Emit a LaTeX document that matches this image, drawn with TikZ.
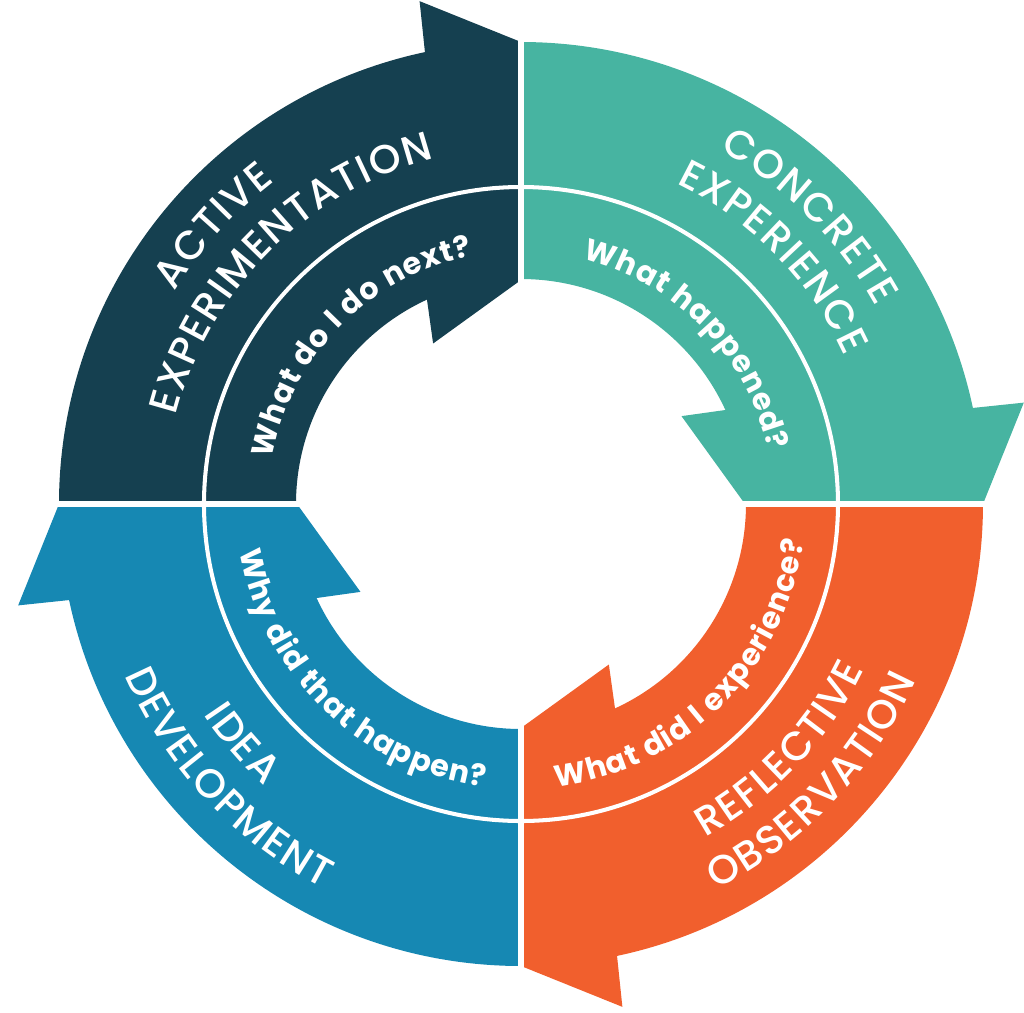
\documentclass[tikz,border=0pt]{standalone}
\usepackage{fontspec}
\setmainfont{Poppins}
\IfFontExistsTF{Poppins Medium}
  {\newfontfamily\titrefont{Poppins Medium}}         % grandes étiquettes
  {\newfontfamily\titrefont{Poppins}}
\newfontfamily\questfont{Poppins}                    % questions
\usepackage{tikz}
\usetikzlibrary{decorations.text}                    % texte le long d'un arc
\definecolor{ae}{RGB}{21,64,80}
\definecolor{ce}{RGB}{71,180,161}
\definecolor{ro}{RGB}{241,95,45}
\definecolor{ide}{RGB}{22,136,179}

\begin{document}
\begin{tikzpicture}[
  titre/.style={decorate,decoration={text along path,text align=center,text color=white,
    text={|\titrefont\fontsize{11.5}{13}\selectfont\kern0.45pt|#1}}},
  question/.style={decorate,decoration={text along path,text align=center,text color=white,
    text={|\questfont\bfseries\fontsize{8.6}{10}\selectfont\kern0.3pt|#1}}}]
\useasboundingbox (-5.21,-5.08) rectangle (5.03,5.04);
\foreach \a/\c in {180/ae,90/ce,0/ro,-90/ide}
\fill[fill=\c] (\a:4.62) arc[start angle=\a,end angle=\a-78,radius=4.62]
  -- ({\a-78.6}:5.13) -- ({\a-90}:4.62) -- ({\a-90}:2.24)
  -- ({\a-61.3}:1.83) -- ({\a-65.3}:2.25) arc[start angle=\a-65.3,end angle=\a,radius=2.25] -- cycle;
\draw[white,line width=0.06cm] (-5.2,0) -- (5.2,0) (0,-5.2) -- (0,5.2);
\draw[white,line width=1.15pt] (0,0) circle (3.17);
\path[titre=ACTIVE] (198:4.06) arc[start angle=198,end angle=78,radius=4.06];
\path[titre=EXPERIMENTATION] (195:3.56) arc[start angle=195,end angle=75,radius=3.56];
\path[titre=CONCRETE] (105:4.06) arc[start angle=105,end angle=-15,radius=4.06];
\path[titre=EXPERIENCE] (104.5:3.56) arc[start angle=104.5,end angle=-15.5,radius=3.56];
\path[titre=REFLECTIVE] (-103.5:3.81) arc[start angle=-103.5,end angle=16.5,radius=3.81];
\path[titre=OBSERVATION] (-103.7:4.32) arc[start angle=-103.7,end angle=16.3,radius=4.32];
\path[titre=IDEA] (160.5:3.81) arc[start angle=160.5,end angle=280.5,radius=3.81];
\path[titre=DEVELOPMENT] (163:4.32) arc[start angle=163,end angle=283,radius=4.32];
\path[question=What do I do next?] (195.5:2.53) arc[start angle=195.5,end angle=75.5,radius=2.53];
\path[question=What happened?] (104.2:2.53) arc[start angle=104.2,end angle=-15.8,radius=2.53];
\path[question=What did I experience?] (-105.2:2.85) arc[start angle=-105.2,end angle=14.8,radius=2.85];
\path[question=Why did that happen?] (166:2.85) arc[start angle=166,end angle=286,radius=2.85];
\end{tikzpicture}
\end{document}
